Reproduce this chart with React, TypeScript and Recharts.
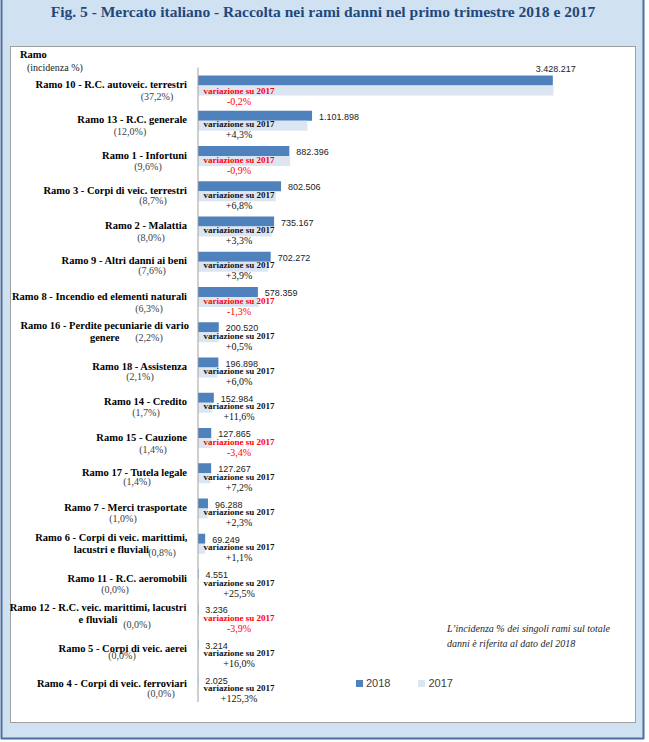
import { BarChart, Bar, XAxis, YAxis, LabelList, Legend } from "recharts";

// Raccolta premi rami danni, primo trimestre (migliaia di euro)
const rami = [
  "Ramo 10 - R.C. autoveic. terrestri",
  "Ramo 13 - R.C. generale",
  "Ramo 1 - Infortuni",
  "Ramo 3 - Corpi di veic. terrestri",
  "Ramo 2 - Malattia",
  "Ramo 9 - Altri danni ai beni",
  "Ramo 8 - Incendio ed elementi naturali",
  "Ramo 16 - Perdite pecuniarie di vario genere",
  "Ramo 18 - Assistenza",
  "Ramo 14 - Credito",
  "Ramo 15 - Cauzione",
  "Ramo 17 - Tutela legale",
  "Ramo 7 - Merci trasportate",
  "Ramo 6 - Corpi di veic. marittimi, lacustri e fluviali",
  "Ramo 11 - R.C. aeromobili",
  "Ramo 12 - R.C. veic. marittimi, lacustri e fluviali",
  "Ramo 5 - Corpi di veic. aerei",
  "Ramo 4 - Corpi di veic. ferroviari",
];

const incidenza = [
  "37,2%", "12,0%", "9,6%", "8,7%", "8,0%", "7,6%", "6,3%", "2,2%", "2,1%",
  "1,7%", "1,4%", "1,4%", "1,0%", "0,8%", "0,0%", "0,0%", "0,0%", "0,0%",
];

const raccolta2018 = [
  3428217, 1101898, 882396, 802506, 735167, 702272, 578359, 200520, 196898,
  152984, 127865, 127267, 96288, 69249, 4551, 3236, 3214, 2025,
];

const raccolta2017 = [
  3435087, 1056470, 890410, 751410, 711682, 675911, 585977, 199522, 185753,
  137082, 132366, 118719, 94123, 68496, 3626, 3367, 2771, 899,
];

const variazione = [
  -0.2, 4.3, -0.9, 6.8, 3.3, 3.9, -1.3, 0.5, 6.0,
  11.6, -3.4, 7.2, 2.3, 1.1, 25.5, -3.9, 16.0, 125.3,
];

const data = rami.map((name, i) => ({
  name,
  incidenza: incidenza[i],
  v2018: raccolta2018[i],
  v2017: raccolta2017[i],
  variazione: variazione[i],
}));

const DARK = "#4f81bd";
const LIGHT = "#dce6f2";
const SERIF = "'Liberation Serif', 'DejaVu Serif', serif";
const SANS = "'Liberation Sans', Arial, sans-serif";

// where each "(incidenza)" note sits, relative to the end of the category label
const incPos = [
  [-30, 12], [-57, 12], [-39, 11], [-34, 10], [-36, 12], [-35, 10],
  [-38, 12], [-38, 0], [-47, 10], [-41, 11], [-34, 12], [-50, 9],
  [-64, 11], [-25, 3], [-72, 11], [-50, 5], [-65, 7], [-26, 10],
];

const fmt = (n: number) => String(n).replace(/\B(?=(\d{3})+(?!\d))/g, ".");
const fmtVar = (v: number) => (v > 0 ? "+" : "") + v.toFixed(1).replace(".", ",") + "%";

function wrap(text: string, max = 40) {
  const lines: string[] = [];
  let cur = "";
  for (const w of text.split(" ")) {
    const next = cur ? cur + " " + w : w;
    if (next.length > max && cur) {
      lines.push(cur);
      cur = w;
    } else cur = next;
  }
  lines.push(cur);
  return lines;
}

function RamoTick(props: any) {
  const { x, y, payload } = props;
  const i = rami.indexOf(payload.value);
  const lines = wrap(payload.value);
  const first = lines.length > 1 ? y - 2.5 : y + 3;
  const last = first + (lines.length - 1) * 12;
  const [dx, dy] = incPos[i] || [-40, 11];
  // wrapped labels: block centred on the first line, which ends at the tick
  const cx = x - (lines[0].length * 4.45) / 2;
  return (
    <g>
      {lines.map((l, k) => (
        <text
          key={k}
          x={lines.length > 1 ? cx : x}
          y={first + k * 12}
          textAnchor={lines.length > 1 ? "middle" : "end"}
          fontFamily={SERIF}
          fontSize={10.5}
          fontWeight="bold"
          fill="#000"
        >
          {l}
        </text>
      ))}
      <text x={x + dx} y={last + dy} textAnchor="middle" fontFamily={SERIF} fontSize={10} fill="#404040">
        ({incidenza[i]})
      </text>
    </g>
  );
}

function box(p: any) {
  const vb = p.viewBox || {};
  return {
    x: Number(p.x ?? vb.x),
    y: Number(p.y ?? vb.y),
    width: Number(p.width ?? vb.width),
    height: Number(p.height ?? vb.height),
  };
}

const maxVal = Math.max(...raccolta2018);

function ValueLabel(p: any) {
  const { x, y, width, height } = box(p);
  if (p.value === maxVal) {
    return (
      <text x={x + width + 3} y={y - 4} textAnchor="middle" fontFamily={SANS} fontSize={9} fill="#222">
        {fmt(p.value)}
      </text>
    );
  }
  return (
    <text x={x + width + 7} y={y + height - 1} fontFamily={SANS} fontSize={9} fill="#222">
      {fmt(p.value)}
    </text>
  );
}

function VarLabel(p: any) {
  const { x, y } = box(p);
  const v = Number(p.value);
  const color = v < 0 ? "#ff0000" : "#111";
  const cx = x + 41;
  const top = p.index === 0 ? y + 1.5 : y;
  return (
    <g>
      <text x={cx} y={top + 6.5} textAnchor="middle" fontFamily={SERIF} fontSize={9} fontWeight="bold" fill={color}>
        variazione su 2017
      </text>
      <text x={cx} y={top + 17.5} textAnchor="middle" fontFamily={SERIF} fontSize={10} fill={color}>
        {fmtVar(v)}
      </text>
    </g>
  );
}

function LegendBox() {
  const items = [
    { label: "2018", color: DARK },
    { label: "2017", color: LIGHT },
  ];
  return (
    <div style={{ display: "flex", fontFamily: SANS, fontSize: 11, color: "#404040" }}>
      {items.map((it) => (
        <div key={it.label} style={{ display: "flex", alignItems: "center", marginRight: 28 }}>
          <span style={{ width: 7, height: 7, background: it.color, marginRight: 3, display: "inline-block" }} />
          {it.label}
        </div>
      ))}
    </div>
  );
}

export default function App() {
  return (
    <div style={{ position: "absolute", left: 0, top: 0, width: 649, height: 742 }}>
      <svg width={649} height={742} style={{ position: "absolute", left: 0, top: 0 }}>
        <rect x={0} y={0} width={649} height={742} fill="#fff" />
        <rect x={1} y={0} width={643} height={738} fill="#d0e1f2" />
        <line x1={1.5} y1={0} x2={1.5} y2={739} stroke="#4d6f9f" strokeWidth={2} />
        <line x1={643.5} y1={0} x2={643.5} y2={739} stroke="#4d6f9f" strokeWidth={2} />
        <line x1={1} y1={738.5} x2={644} y2={738.5} stroke="#4d6f9f" strokeWidth={2} />
        <text x={323} y={17} textAnchor="middle" fontFamily={SERIF} fontSize={15.5} fontWeight="bold" fill="#1f497d">
          Fig. 5 - Mercato italiano - Raccolta nei rami danni nel primo trimestre 2018 e 2017
        </text>
        <rect x={10.5} y={46.5} width={625} height={676} fill="#fff" stroke="#a0a0a0" />
        <text x={20} y={58} fontFamily={SERIF} fontSize={10.5} fontWeight="bold" fill="#000">
          Ramo
        </text>
        <text x={27} y={71} fontFamily={SERIF} fontSize={10} fill="#222">
          (incidenza %)
        </text>
        <text x={447} y={632} fontFamily={SERIF} fontSize={10} fontStyle="italic" fill="#262626">
          L’incidenza % dei singoli rami sul totale
        </text>
        <text x={447} y={647} fontFamily={SERIF} fontSize={10} fontStyle="italic" fill="#262626">
          danni è riferita al dato del 2018
        </text>
      </svg>
      <div style={{ position: "absolute", left: 0, top: 0 }}>
        <BarChart
          width={649}
          height={742}
          data={data}
          layout="vertical"
          margin={{ top: 67.5, right: 37, bottom: 40, left: 0 }}
          barSize={10}
          barGap={0}
        >
          <XAxis type="number" domain={[0, 4000000]} hide />
          <YAxis
            type="category"
            dataKey="name"
            width={198}
            axisLine={{ stroke: "#a0a0a0" }}
            tickLine={false}
            tickSize={0}
            tickMargin={11}
            interval={0}
            tick={<RamoTick />}
          />
          <Bar dataKey="v2018" fill={DARK} isAnimationActive={false}>
            <LabelList dataKey="v2018" content={ValueLabel} />
          </Bar>
          <Bar dataKey="v2017" fill={LIGHT} isAnimationActive={false}>
            <LabelList dataKey="variazione" content={VarLabel} />
          </Bar>
          <Legend
            layout="horizontal"
            verticalAlign="middle"
            align="center"
            content={<LegendBox />}
            wrapperStyle={{ left: 356, top: 677, width: 150, height: 14 }}
          />
        </BarChart>
      </div>
    </div>
  );
}
